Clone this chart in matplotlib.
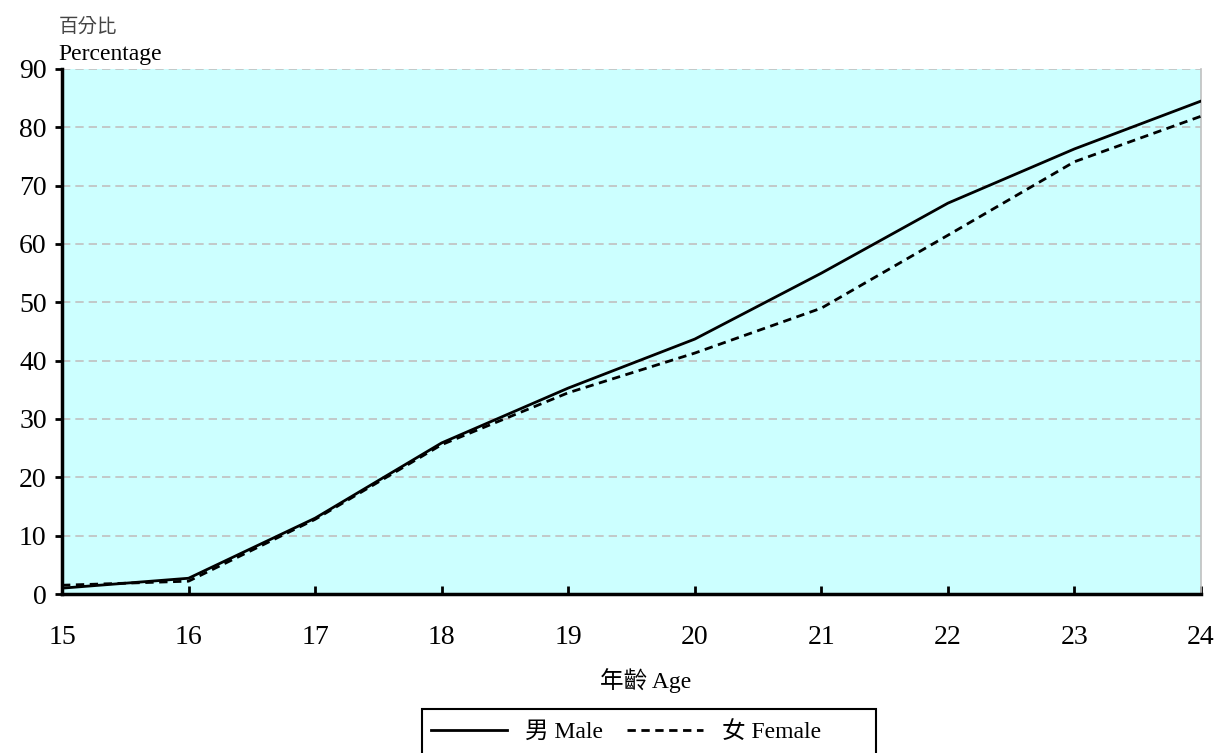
import matplotlib
matplotlib.use("Agg")
import matplotlib.pyplot as plt
from matplotlib.lines import Line2D
from matplotlib.patches import Rectangle

plt.rcParams['font.family'] = ['Liberation Serif', 'Noto Sans CJK TC']

# data
ages = [15, 16, 17, 18, 19, 20, 21, 22, 23, 24]
male = [1.0, 2.7, 13.0, 25.9, 35.3, 43.7, 55.0, 67.0, 76.3, 84.5]
female = [1.5, 2.2, 12.8, 25.6, 34.5, 41.3, 49.0, 61.5, 74.1, 81.9]
yticks = list(range(0, 91, 10))

W, H = 1216, 753
fig = plt.figure(figsize=(W / 100, H / 100), dpi=100)
ax = fig.add_axes([62 / W, 1 - 594 / H, (1201 - 62) / W, (594 - 69) / H])
ax.set_facecolor('#CCFFFF')

# grid
for y in yticks[1:]:
    ax.axhline(y, color='#C0C0C0', lw=1.2, ls=(0, (5, 3)), zorder=1)

ax.plot(ages, male, color='black', lw=2, zorder=3)
ax.plot(ages, female, color='black', lw=2, ls=(0, (3, 2)), zorder=3)

ax.set_xlim(15, 24)
ax.set_ylim(0, 90)
ax.set_xticks(ages)
ax.set_yticks(yticks)
ax.tick_params(axis='x', direction='in', length=6, width=2, labelsize=20, pad=22)
ax.tick_params(axis='y', direction='out', length=5, width=2, labelsize=20, pad=6)

ax.spines['right'].set_color('#C0C0C0')
ax.spines['right'].set_linewidth(1.2)
ax.spines['top'].set_visible(False)
for s in ['left', 'bottom']:
    ax.spines[s].set_linewidth(2.5)
    ax.spines[s].set_color('black')

fig.text(59 / W, 1 - 32 / H, '百分比', fontsize=14, color='#444444', ha='left', va='baseline')
fig.text(58 / W, 1 - 60 / H, 'Percentage', fontsize=17, ha='left', va='baseline')
fig.text(646 / W, 1 - 688 / H, '年齡 Age', fontsize=17, ha='center', va='baseline')

# legend box (runs off the bottom edge as in the reference)
fig.patches.append(Rectangle((422 / W, -0.05), (876 - 422) / W, 0.05 + 1 - 709 / H,
                             transform=fig.transFigure, fill=False,
                             edgecolor='black', lw=1.5))

handles = [Line2D([], [], color='black', lw=2),
           Line2D([], [], color='black', lw=2, ls=(0, (3, 2)))]
leg = fig.legend(handles, ['男 Male', '女 Female'], ncol=2, loc='center left',
                 bbox_to_anchor=(431 / W, 1 - 732 / H), fontsize=17,
                 frameon=False, handlelength=3.2, columnspacing=1.0,
                 borderpad=0, handletextpad=0.8, borderaxespad=0)

fig.savefig('out.png', dpi=100)
